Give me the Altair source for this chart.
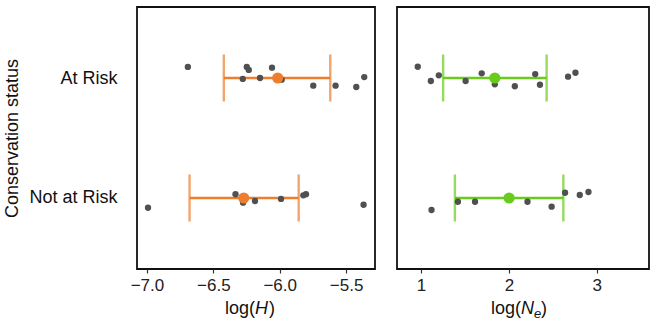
import altair as alt
import pandas as pd

# ---------------- data ----------------
categories = ["At Risk", "Not at Risk"]
cat_pos = [2, 1]

# log(H) panel
H_risk_x = [-6.692, -6.248, -6.233, -6.058, -6.278, -6.148, -5.985, -5.747, -5.579, -5.423, -5.363]
H_risk_y = [2.092, 2.092, 2.067, 2.086, 1.992, 2.000, 1.986, 1.936, 1.936, 1.925, 2.008]
H_not_x = [-6.992, -6.333, -6.276, -6.186, -5.990, -5.822, -5.802, -5.368]
H_not_y = [0.919, 1.031, 0.961, 0.975, 0.992, 1.022, 1.031, 0.944]
H_mean = [-6.015, -6.271]
H_lo = [-6.421, -6.679]
H_hi = [-5.619, -5.857]

# log(Ne) panel
N_risk_x = [0.962, 1.111, 1.202, 1.507, 1.690, 1.839, 2.067, 2.299, 2.353, 2.673, 2.757]
N_risk_y = [2.094, 1.975, 2.022, 1.975, 2.039, 1.947, 1.931, 2.033, 1.944, 2.011, 2.044]
N_not_x = [1.119, 1.419, 1.614, 2.211, 2.486, 2.639, 2.806, 2.905]
N_not_y = [0.900, 0.969, 0.969, 0.969, 0.928, 1.044, 1.025, 1.050]
N_mean = [1.839, 2.002]
N_lo = [1.251, 1.385]
N_hi = [2.429, 2.619]

H_ticks = [-7.0, -6.5, -6.0, -5.5]
N_ticks = [1, 2, 3]

FONT = "Liberation Sans"
GRAY = "#505050"
ORANGE = "#EE7D2E"
GREEN = "#69CC1C"

PH = 262
Y_DOMAIN = [0.4083, 2.5917]


def panel(px, py, mean, lo, hi, color, xdom, ticks, fmt, width, show_y, title_parts):
    pts = pd.DataFrame({"x": px, "y": py})
    summ = pd.DataFrame({"cat": categories, "pos": cat_pos, "mean": mean, "lo": lo, "hi": hi})

    yscale = alt.Scale(domain=Y_DOMAIN, nice=False, zero=False)
    xscale = alt.Scale(domain=xdom, nice=False, zero=False)
    if show_y:
        yaxis = alt.Axis(
            values=cat_pos,
            labelExpr="datum.value == 2 ? 'At Risk' : 'Not at Risk'",
            ticks=False, domain=False, grid=False,
            labelFontSize=18, labelPadding=20, labelColor="#111",
            title="Conservation status", titleFontSize=18, titleFontWeight="normal",
            titlePadding=7, titleColor="#111", labelFont=FONT, titleFont=FONT,
        )
    else:
        yaxis = None
    xaxis = alt.Axis(values=ticks, format=fmt, title=None, domain=False, grid=False,
                     tickSize=4, tickColor="#333", tickWidth=1.2,
                     labelFontSize=17, labelPadding=4, labelColor="#222", labelFont=FONT)

    base_s = alt.Chart(summ)
    bar = base_s.mark_rule(color=color, strokeWidth=2.4).encode(
        x=alt.X("lo:Q", scale=xscale, axis=xaxis),
        x2="hi:Q",
        y=alt.Y("pos:Q", scale=yscale, axis=yaxis),
    )
    cap_lo = base_s.mark_tick(color=color, orient="vertical", size=47, thickness=2.4).encode(
        x="lo:Q", y="pos:Q")
    cap_hi = base_s.mark_tick(color=color, orient="vertical", size=47, thickness=2.4).encode(
        x="hi:Q", y="pos:Q")
    dots = alt.Chart(pts).mark_circle(color=GRAY, size=40, opacity=1).encode(
        x="x:Q", y="y:Q")
    means = base_s.mark_circle(color=color, size=125, opacity=1).encode(
        x="mean:Q", y="pos:Q")

    one = pd.DataFrame({"k": [0]})
    texts = []
    for txt, xoff, dy, size, style, align in title_parts:
        texts.append(
            alt.Chart(one).mark_text(text=txt, font=FONT, fontSize=size, fontStyle=style,
                                     align=align, baseline="alphabetic", color="#111").encode(
                x=alt.value(width / 2 + xoff), y=alt.value(PH + 45 + dy))
        )
    return alt.layer(bar, cap_lo, cap_hi, dots, means, *texts).properties(width=width, height=PH)


left = panel(
    H_risk_x + H_not_x, H_risk_y + H_not_y, H_mean, H_lo, H_hi, ORANGE,
    [-7.075, -5.282], H_ticks, ".1f", 238, True,
    [("log(", -1, 0, 18, "normal", "right"),
     ("H", -1, 0, 18, "italic", "left"),
     (")", 13, 0, 18, "normal", "left")],
)
right = panel(
    N_risk_x + N_not_x, N_risk_y + N_not_y, N_mean, N_lo, N_hi, GREEN,
    [0.726, 3.594], N_ticks, "d", 252, False,
    [("log(", -2, 0, 18, "normal", "right"),
     ("N", -2, 0, 18, "italic", "left"),
     ("e", 11, 4, 13, "italic", "left"),
     (")", 18, 0, 18, "normal", "left")],
)

chart = alt.hconcat(left, right, spacing=20).properties(
    padding={"left": 3, "top": 6, "right": 5, "bottom": 5}
).configure(background="white").configure_view(stroke="#111", strokeWidth=1.8)

chart.save("out.html", embed_options={"renderer": "svg", "actions": False})
